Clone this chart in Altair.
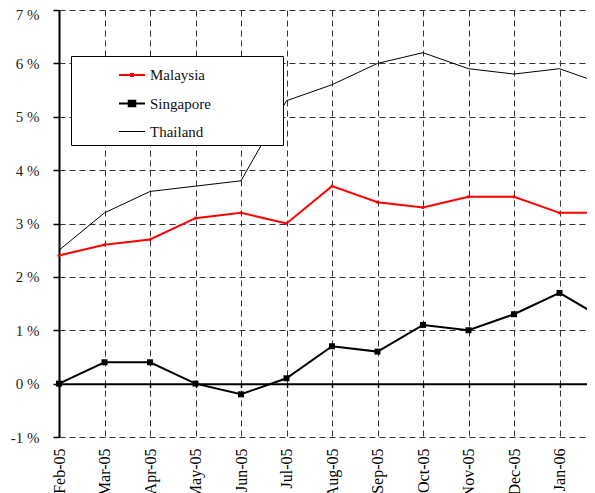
import altair as alt
import pandas as pd

months = ["Feb-05", "Mar-05", "Apr-05", "May-05", "Jun-05", "Jul-05", "Aug-05",
          "Sep-05", "Oct-05", "Nov-05", "Dec-05", "Jan-06", "Feb-06"]
series = ["Malaysia", "Singapore", "Thailand"]
malaysia = [2.4, 2.6, 2.7, 3.1, 3.2, 3.0, 3.7, 3.4, 3.3, 3.5, 3.5, 3.2, 3.2]
singapore = [0.0, 0.4, 0.4, 0.0, -0.2, 0.1, 0.7, 0.6, 1.1, 1.0, 1.3, 1.7, 1.2]
thailand = [2.5, 3.2, 3.6, 3.7, 3.8, 5.3, 5.6, 6.0, 6.2, 5.9, 5.8, 5.9, 5.6]
y_ticks = [-1, 0, 1, 2, 3, 4, 5, 6, 7]

colors = ["#ff0000", "#000000", "#000000"]
widths = [2, 2, 1]
legend_paths = [
    "M-1,0H1M-0.08,-0.08H0.08V0.08H-0.08Z",
    "M-1,0H1M-0.25,-0.21H0.25V0.21H-0.25Z",
    "M-1,0H1",
]

rows = []
for name, vals in zip(series, [malaysia, singapore, thailand]):
    for i, (m, v) in enumerate(zip(months, vals)):
        rows.append({"month": m, "idx": i, "value": v, "series": name})
df = pd.DataFrame(rows)

FONT = "Liberation Serif"

xscale = alt.Scale(type="point", padding=0, domain=months)
yscale = alt.Scale(domain=[-1, 7], nice=False, zero=False)

x_label_axis = alt.Axis(orient="bottom", title=None, domain=False, ticks=False,
                        labelAngle=270, labelPadding=11, labelFont=FONT,
                        labelFontSize=16, labelColor="#000", grid=True,
                        gridDash=[6, 4], gridColor="#333", gridWidth=1)
y_axis = alt.Axis(title=None, values=y_ticks, labelExpr="datum.value + ' %'",
                  labelFont=FONT, labelFontSize=15, labelColor="#222",
                  labelPadding=14,
                  labelOffset={"condition": {"test": "datum.value == 7", "value": 4}, "value": 0},
                  domainColor="#000", domainWidth=2,
                  tickColor="#000", tickSize=6, tickWidth=1.5, grid=True,
                  gridDash=[6, 4], gridColor="#333", gridWidth=1)
zero_axis = alt.Axis(orient="bottom", offset=-53.375, title=None, labels=False,
                     grid=False, domain=True, domainColor="#000", domainWidth=2,
                     ticks=True, tickSize=4, tickWidth=1.5, tickColor="#000")

base = alt.Chart(df)


def x_enc(axis):
    return alt.X("month:O", sort=months, scale=xscale, axis=axis)


y_enc = alt.Y("value:Q", scale=yscale, axis=y_axis)

line_layers = []
for k, (name, col, w) in enumerate(zip(series, colors, widths)):
    line_layers.append(
        base.transform_filter(alt.datum.series == name)
        .mark_line(color=col, strokeWidth=w)
        .encode(x=x_enc(x_label_axis if k == 0 else None), y=y_enc,
                order=alt.Order("idx:Q"))
    )

mal_pts = base.transform_filter(alt.datum.series == "Malaysia").mark_point(
    filled=True, shape="circle", size=10, color=colors[0], opacity=1
).encode(x=x_enc(zero_axis), y=y_enc)

sg_pts = base.transform_filter(alt.datum.series == "Singapore").mark_point(
    filled=True, shape="square", size=36, color=colors[1], opacity=1
).encode(x=x_enc(None), y=y_enc)

legend = alt.Legend(
    title="\u00a0", titleOrient="right", titlePadding=67, titleFontSize=4,
    titleColor="#ffffff",
    orient="none", legendX=12, legendY=46, fillColor="#ffffff",
    strokeColor="#000000", padding=5, symbolOffset=42, labelOffset=4,
    labelFont=FONT, labelFontSize=15, labelColor="#111", symbolSize=676,
    rowPadding=6.5,
)
legend_layer = base.transform_filter("false").mark_point(opacity=1).encode(
    x=x_enc(None),
    y=y_enc,
    shape=alt.Shape("series:N", scale=alt.Scale(domain=series, range=legend_paths), legend=legend),
    fill=alt.Fill("series:N", scale=alt.Scale(domain=series, range=colors), legend=legend),
    stroke=alt.Stroke("series:N", scale=alt.Scale(domain=series, range=colors), legend=legend),
    strokeWidth=alt.StrokeWidth("series:N", scale=alt.Scale(type="ordinal", domain=series, range=widths), legend=legend),
)

chart = alt.layer(*line_layers, mal_pts, sg_pts, legend_layer).resolve_axis(
    x="independent"
).properties(
    width=546, height=427,
    autosize=alt.AutoSizeParams(type="none"),
    padding={"left": 51, "top": 2, "right": -18, "bottom": 56},
).configure_view(stroke=None)

chart.save("out.html", embed_options={"renderer": "svg", "actions": False})
